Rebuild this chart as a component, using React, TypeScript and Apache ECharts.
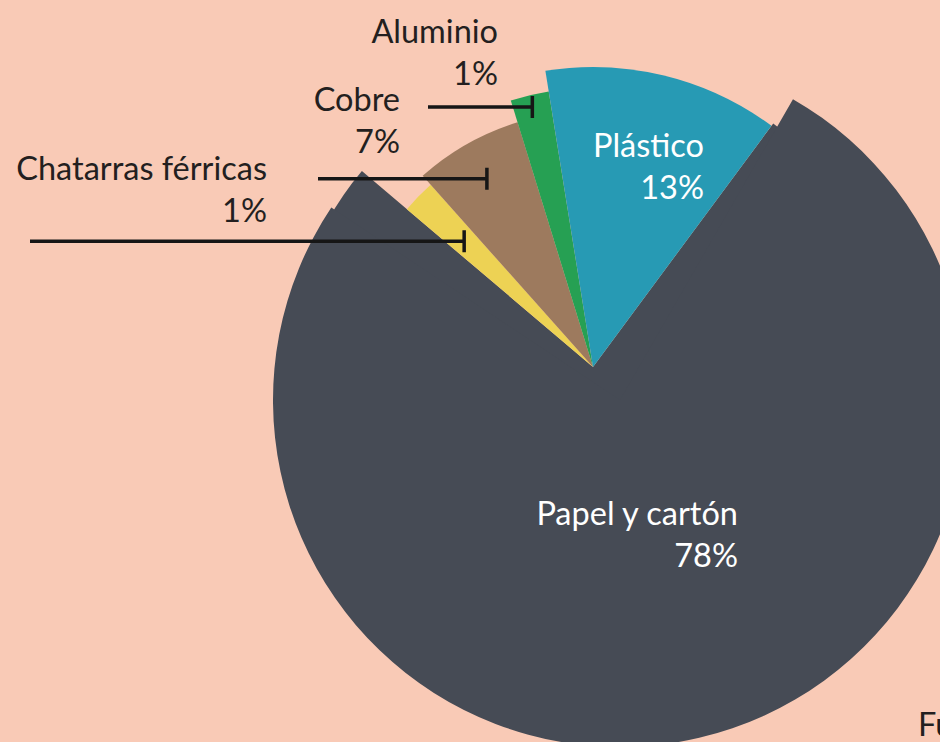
import React, { useEffect, useRef } from "react";
import * as echarts from "echarts";

// ---- data ----
const categories = ["Papel y cartón", "Chatarras férricas", "Cobre", "Aluminio", "Plástico"];
const percentages = [78, 1, 7, 1, 13];
const sourceLabel = "Fuente: elaboración propia";

// ---- styles ----
const BG = "#F9CAB6";
const TXT = "#231F20";
const COLORS = ["#464B55", "#EDD254", "#9D7A5E", "#26A053", "#279AB4"];
const APEX: [number, number] = [593, 367];
const OUTER_CENTER: [number, number] = [620, 400];
const SLICE_RADIUS = [303, 244, 256, 279, 300];
const OUTER_RADIUS = 347;
const START = 53.5;
const OUTER_START = 60.1;
const MIN_ANGLE = 8;
const FONT = "Lato, 'Open Sans', sans-serif";
const FONT_SIZE = 32.5;

type LabelConf = { x: number; y: number; color: string; inside: boolean; lineStartX?: number; anchorR?: number };
const LABELS: Record<string, LabelConf> = {
  "Papel y cartón": { x: 738, y: 491, color: "#FFFFFF", inside: true },
  "Plástico": { x: 704, y: 123, color: "#FFFFFF", inside: true },
  "Aluminio": { x: 498, y: 9, color: TXT, inside: false, lineStartX: 428, anchorR: 267 },
  "Cobre": { x: 400, y: 77, color: TXT, inside: false, lineStartX: 318, anchorR: 216 },
  "Chatarras férricas": { x: 267, y: 146, color: TXT, inside: false, lineStartX: 30, anchorR: 180 },
};

function labelLayout(p: any) {
  const name = categories[p.dataIndex];
  const conf = LABELS[name];
  if (!conf) return {};
  const res: any = { x: conf.x, y: conf.y, align: "right", verticalAlign: "top" };
  if (conf.anchorR && p.labelLinePoints && p.labelLinePoints.length) {
    const [px, py] = p.labelLinePoints[0];
    const dx = px - APEX[0];
    const dy = py - APEX[1];
    const len = Math.hypot(dx, dy) || 1;
    const ax = APEX[0] + (dx / len) * conf.anchorR;
    const ay = APEX[1] + (dy / len) * conf.anchorR;
    res.labelLinePoints = [
      [conf.lineStartX, ay],
      [ax, ay],
      [ax, ay - 11],
      [ax, ay + 11],
    ];
  }
  return res;
}

const baseSeries = {
  type: "pie",
  minAngle: MIN_ANGLE,
  clockwise: true,
  avoidLabelOverlap: false,
  silent: true,
  emphasis: { disabled: true },
  label: { show: false },
  labelLine: { show: false },
};

// one coloured slice per series (each slice has its own radius)
function sliceSeries(visible: number, center: [number, number], radius: number, startAngle: number, z: number) {
  return {
    ...baseSeries,
    center,
    radius,
    startAngle,
    z,
    data: categories.map((name, i) => ({
      name,
      value: percentages[i],
      itemStyle: { color: i === visible ? COLORS[i] : "rgba(0,0,0,0)", borderWidth: 0 },
    })),
  };
}

// transparent series that carries every label and leader line on top
function labelSeries() {
  return {
    ...baseSeries,
    center: APEX,
    radius: 300,
    startAngle: START,
    z: 5,
    labelLayout,
    data: categories.map((name, i) => {
      const conf = LABELS[name];
      return {
        name,
        value: percentages[i],
        itemStyle: { color: "rgba(0,0,0,0)", borderWidth: 0 },
        label: {
          show: true,
          position: conf.inside ? "inside" : "outside",
          formatter: "{b}\n{c}%",
          color: conf.color,
          fontFamily: FONT,
          fontSize: FONT_SIZE,
          lineHeight: 42,
          align: "right",
        },
        labelLine: conf.inside
          ? { show: false }
          : { show: true, length: 10, length2: 10, lineStyle: { color: "#161616", width: 3.5 } },
      };
    }),
  };
}

export default function App() {
  const ref = useRef<HTMLDivElement>(null);
  useEffect(() => {
    if (!ref.current) return;
    const chart = echarts.init(ref.current, undefined, { renderer: "svg" });
    const series = [
      sliceSeries(0, APEX, SLICE_RADIUS[0], START, 1),
      sliceSeries(0, OUTER_CENTER, OUTER_RADIUS, OUTER_START, 2),
      sliceSeries(1, APEX, SLICE_RADIUS[1], START, 3),
      sliceSeries(2, APEX, SLICE_RADIUS[2], START, 3),
      sliceSeries(3, APEX, SLICE_RADIUS[3], START, 3),
      sliceSeries(4, APEX, SLICE_RADIUS[4], START, 3),
      labelSeries(),
    ];
    chart.setOption({
      animation: false,
      backgroundColor: BG,
      series,
      graphic: [
        {
          type: "text",
          left: 918,
          top: 707,
          z: 10,
          style: { text: sourceLabel, fill: TXT, font: `${FONT_SIZE}px ${FONT}` },
        },
      ],
    } as any);
    return () => chart.dispose();
  }, []);
  return (
    <div
      ref={ref}
      style={{ position: "absolute", left: 0, top: 0, width: 940, height: 742 }}
    />
  );
}
